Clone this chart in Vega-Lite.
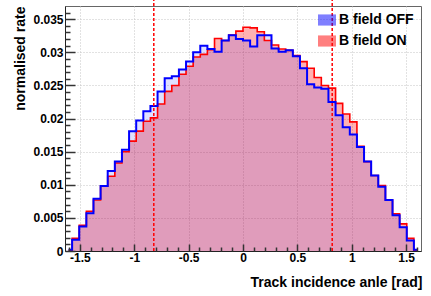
{
  "$schema": "https://vega.github.io/schema/vega-lite/v6.json",
  "width": 356,
  "height": 245,
  "autosize": {"type": "none"},
  "padding": {"left": 65, "top": 6, "right": 10, "bottom": 45},
  "background": "white",
  "config": {
    "font": "Liberation Sans",
    "view": {"stroke": "#666666", "strokeWidth": 1},
    "axis": {"labelFont": "Liberation Sans", "labelFontWeight": "bold", "labelFontSize": 12, "labelColor": "#000000", "titleFont": "Liberation Sans", "titleFontWeight": "bold", "titleFontSize": 14, "titleColor": "#000000"}
  },
  "data": {"values": [
    {"x": -1.6035, "off": 0.0002, "on": 0.0001},
    {"x": -1.5381, "off": 0.0017, "on": 0.0019},
    {"x": -1.4726, "off": 0.0037, "on": 0.0039},
    {"x": -1.4072, "off": 0.0057, "on": 0.0060},
    {"x": -1.3417, "off": 0.0079, "on": 0.0077},
    {"x": -1.2763, "off": 0.0098, "on": 0.0098},
    {"x": -1.2108, "off": 0.0121, "on": 0.0113},
    {"x": -1.1454, "off": 0.0135, "on": 0.0133},
    {"x": -1.0799, "off": 0.0153, "on": 0.0150},
    {"x": -1.0145, "off": 0.0181, "on": 0.0166},
    {"x": -0.9490, "off": 0.0197, "on": 0.0181},
    {"x": -0.8836, "off": 0.0211, "on": 0.0196},
    {"x": -0.8181, "off": 0.0219, "on": 0.0201},
    {"x": -0.7527, "off": 0.0241, "on": 0.0222},
    {"x": -0.6872, "off": 0.0261, "on": 0.0241},
    {"x": -0.6218, "off": 0.0264, "on": 0.0250},
    {"x": -0.5563, "off": 0.0274, "on": 0.0267},
    {"x": -0.4909, "off": 0.0286, "on": 0.0279},
    {"x": -0.4254, "off": 0.0300, "on": 0.0293},
    {"x": -0.3600, "off": 0.0310, "on": 0.0297},
    {"x": -0.2945, "off": 0.0305, "on": 0.0304},
    {"x": -0.2291, "off": 0.0301, "on": 0.0321},
    {"x": -0.1636, "off": 0.0318, "on": 0.0318},
    {"x": -0.0982, "off": 0.0326, "on": 0.0326},
    {"x": -0.0327, "off": 0.0320, "on": 0.0332},
    {"x": 0.0327, "off": 0.0318, "on": 0.0338},
    {"x": 0.0982, "off": 0.0309, "on": 0.0337},
    {"x": 0.1636, "off": 0.0326, "on": 0.0331},
    {"x": 0.2291, "off": 0.0326, "on": 0.0318},
    {"x": 0.2945, "off": 0.0306, "on": 0.0311},
    {"x": 0.3600, "off": 0.0301, "on": 0.0305},
    {"x": 0.4254, "off": 0.0303, "on": 0.0303},
    {"x": 0.4909, "off": 0.0294, "on": 0.0295},
    {"x": 0.5563, "off": 0.0276, "on": 0.0286},
    {"x": 0.6218, "off": 0.0252, "on": 0.0276},
    {"x": 0.6872, "off": 0.0247, "on": 0.0262},
    {"x": 0.7527, "off": 0.0245, "on": 0.0250},
    {"x": 0.8181, "off": 0.0225, "on": 0.0246},
    {"x": 0.8836, "off": 0.0205, "on": 0.0223},
    {"x": 0.9490, "off": 0.0187, "on": 0.0207},
    {"x": 1.0145, "off": 0.0176, "on": 0.0195},
    {"x": 1.0799, "off": 0.0157, "on": 0.0158},
    {"x": 1.1454, "off": 0.0135, "on": 0.0135},
    {"x": 1.2108, "off": 0.0114, "on": 0.0114},
    {"x": 1.2763, "off": 0.0097, "on": 0.0099},
    {"x": 1.3417, "off": 0.0077, "on": 0.0077},
    {"x": 1.4072, "off": 0.0054, "on": 0.0056},
    {"x": 1.4726, "off": 0.0036, "on": 0.0041},
    {"x": 1.5381, "off": 0.0016, "on": 0.0019},
    {"x": 1.6035, "off": 0.0002, "on": 0.0001}
  ]},
  "resolve": {"axis": {"x": "independent", "y": "independent"}},
  "layer": [
    {
      "mark": {"type": "area", "interpolate": "step", "fillOpacity": 0.3},
      "encoding": {
        "x": {"field": "x", "type": "quantitative", "scale": {"domain": [-1.6362, 1.6362], "nice": false, "zero": false},
              "axis": {"orient": "bottom", "values": [-1.5, -1, -0.5, 0, 0.5, 1, 1.5], "grid": true, "gridColor": "#c4c4c4", "gridDash": [1, 2], "gridWidth": 1, "ticks": false, "labels": false, "domain": false, "title": null, "zindex": 0}},
        "y": {"field": "on", "type": "quantitative", "scale": {"domain": [0, 0.037], "nice": false},
              "axis": {"orient": "left", "values": [0.005, 0.01, 0.015, 0.02, 0.025, 0.03, 0.035], "grid": true, "gridColor": "#c4c4c4", "gridDash": [1, 2], "gridWidth": 1, "ticks": false, "labels": false, "domain": false, "title": null, "zindex": 0}},
        "color": {"datum": "B field ON", "scale": {"domain": ["B field OFF", "B field ON"], "range": ["#0000ff", "#ff0000"]},
                  "legend": {"orient": "none", "legendX": 253, "legendY": 5, "title": null, "direction": "vertical", "labelFont": "Liberation Sans", "labelFontSize": 14, "labelFontWeight": "bold", "labelColor": "#000000", "labelOffset": 3, "rowPadding": 5, "padding": 0, "symbolType": "M-1,-0.62H1V0.62H-1Z", "symbolSize": 324, "symbolStrokeWidth": 0, "symbolOpacity": 0.5}}
      }
    },
    {
      "mark": {"type": "area", "interpolate": "step", "fillOpacity": 0.12},
      "encoding": {
        "x": {"field": "x", "type": "quantitative",
              "axis": {"orient": "bottom", "values": [-1.5, -1, -0.5, 0, 0.5, 1, 1.5], "grid": false, "ticks": false, "tickSize": 0, "labelPadding": 1, "labelExpr": "replace(format(datum.value, '~g'), '−', '-')", "domain": true, "domainColor": "#222222", "domainWidth": 1, "title": "Track incidence anle [rad]", "titleX": 357, "titleY": 35, "titleAlign": "right", "titleBaseline": "alphabetic", "zindex": 3}},
        "y": {"field": "off", "type": "quantitative",
              "axis": {"orient": "left", "values": [0, 0.005, 0.01, 0.015, 0.02, 0.025, 0.03, 0.035], "grid": false, "ticks": false, "tickSize": 0, "labelPadding": 2, "format": ".3~f", "domain": true, "domainColor": "#222222", "domainWidth": 1, "title": "normalised rate", "titleX": -45, "titleY": 0, "titleAngle": -90, "titleAlign": "right", "titleBaseline": "middle", "zindex": 3}},
        "color": {"datum": "B field OFF"}
      }
    },
    {
      "mark": {"type": "line", "interpolate": "step", "strokeWidth": 1.6},
      "encoding": {
        "x": {"field": "x", "type": "quantitative",
              "axis": {"orient": "bottom", "offset": -4, "values": [-1.6, -1.4, -1.3, -1.2, -1.1, -0.9, -0.8, -0.7, -0.6, -0.4, -0.3, -0.2, -0.1, 0.1, 0.2, 0.3, 0.4, 0.6, 0.7, 0.8, 0.9, 1.1, 1.2, 1.3, 1.4, 1.6], "grid": false, "ticks": true, "tickSize": 4, "tickColor": "#333333", "tickWidth": 1.5, "labels": false, "domain": false, "title": null, "zindex": 3}},
        "y": {"field": "on", "type": "quantitative",
              "axis": {"orient": "left", "offset": -5, "values": [0.001, 0.002, 0.003, 0.004, 0.006, 0.007, 0.008, 0.009, 0.011, 0.012, 0.013, 0.014, 0.016, 0.017, 0.018, 0.019, 0.021, 0.022, 0.023, 0.024, 0.026, 0.027, 0.028, 0.029, 0.031, 0.032, 0.033, 0.034, 0.036], "grid": false, "ticks": true, "tickSize": 5, "tickColor": "#333333", "tickWidth": 1.5, "labels": false, "domain": false, "title": null, "zindex": 3}},
        "color": {"datum": "B field ON"}
      }
    },
    {
      "mark": {"type": "line", "interpolate": "step", "strokeWidth": 2},
      "encoding": {
        "x": {"field": "x", "type": "quantitative",
              "axis": {"orient": "bottom", "offset": -7, "values": [-1.5, -1, -0.5, 0, 0.5, 1, 1.5], "grid": false, "ticks": true, "tickSize": 7, "tickColor": "#333333", "tickWidth": 1.5, "labels": false, "domain": false, "title": null, "zindex": 3}},
        "y": {"field": "off", "type": "quantitative",
              "axis": {"orient": "left", "offset": -10, "values": [0, 0.005, 0.01, 0.015, 0.02, 0.025, 0.03, 0.035], "grid": false, "ticks": true, "tickSize": 10, "tickColor": "#333333", "tickWidth": 1.5, "labels": false, "domain": false, "title": null, "zindex": 3}},
        "color": {"datum": "B field OFF"}
      }
    },
    {
      "data": {"values": [{"pos": -0.82}, {"pos": 0.82}]},
      "mark": {"type": "rule", "color": "#ff0000", "strokeDash": [3, 2], "strokeWidth": 1.5, "clip": false},
      "encoding": {
        "x": {"field": "pos", "type": "quantitative", "axis": null},
        "y": {"datum": 0, "axis": null},
        "y2": {"datum": 0.038}
      }
    }
  ]
}
